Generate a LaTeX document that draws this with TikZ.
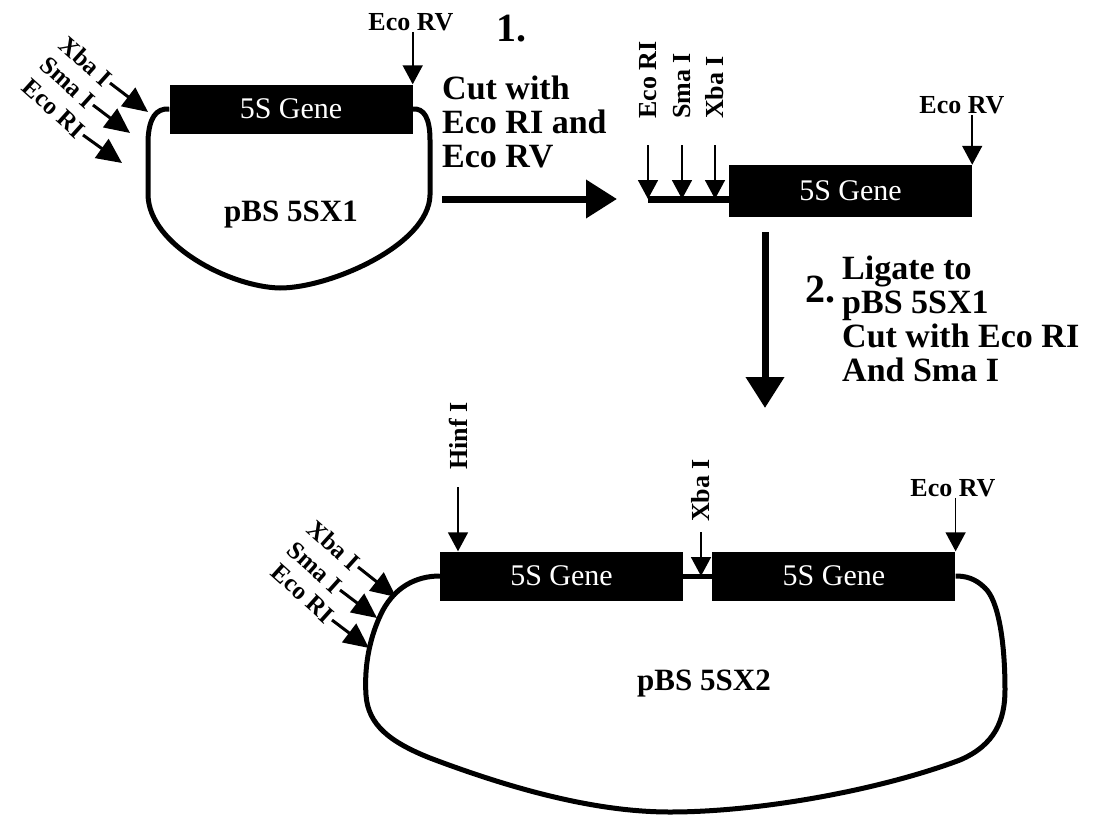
\documentclass[tikz,border=0pt]{standalone}
\usepackage{fontspec}
\setmainfont{Liberation Serif}
\usetikzlibrary{arrows.meta,positioning}
\tikzset{
  genebox/.style={fill=black, minimum width=243pt, minimum height=49pt,
    inner sep=0pt, text=white, font=\fontsize{30}{34}\selectfont},
  sitelabel/.style={font=\fontsize{26}{28}\selectfont\bfseries, inner sep=1pt},
  diaglabel/.style={font=\fontsize{25}{27}\selectfont\bfseries, inner sep=2pt,
    rotate=-42, anchor=east},
  plasmidlabel/.style={font=\fontsize{31}{34}\selectfont\bfseries},
  steptext/.style={font=\fontsize{34}{34}\selectfont\bfseries, align=left,
    anchor=west, inner sep=0pt},
  stepnum/.style={font=\fontsize{40}{44}\selectfont\bfseries},
  site/.style={-{Triangle[length=19pt,width=20pt]}, line width=1.6pt},
  diagsite/.style={-{Triangle[length=25pt,width=23pt]}, line width=3pt},
  bigflow/.style={-{Triangle[length=31pt,width=37pt]}, line width=7pt},
  loopline/.style={line width=5pt},
  linker/.style={line width=7pt}
}
\begin{document}
\begin{tikzpicture}[x=1pt, y=-1pt]
\path[use as bounding box] (0,0) rectangle (1093,817);

% pBS 5SX1
\node[genebox] (gene1) at (291,109) {5S Gene};
\node[sitelabel] (rv1) at (411,22) {Eco RV};
\draw[site] (gene1.north east |- rv1.south) -- (gene1.north east);
\draw[loopline] (gene1.west) .. controls (156,108) and (149,118) .. (148,140)
  -- (148,195) .. controls (149,245) and (230,287) .. (280,288)
  .. controls (330,288) and (429,245) .. (430,195) -- (430,140)
  .. controls (430,118) and (424,108) .. (gene1.east);
\node[plasmidlabel] (p1) at (291,215) {pBS 5SX1};
\node[diaglabel] (xba1) at (110,83) {Xba I};
\node[diaglabel] (sma1) at (93,105) {Sma I};
\node[diaglabel] (eco1) at (83,135) {Eco RI};
\coordinate (xba1tip) at (148,112);
\coordinate (sma1tip) at (130,133);
\coordinate (eco1tip) at (122,163);
\draw[diagsite] (xba1.east) -- (xba1tip);
\draw[diagsite] (sma1.east) -- (sma1tip);
\draw[diagsite] (eco1.east) -- (eco1tip);

% step 1
\node[stepnum] (one) at (511,29) {1.};
\node[steptext] (cut) at (442,122) {Cut with\\Eco RI and\\Eco RV};
\coordinate (s1a) at (442,199);
\coordinate (s1b) at (617,199);
\draw[bigflow] (s1a) -- (s1b);

% cut fragment
\node[genebox, minimum height=52pt] (gene2) at (850.5,191) {5S Gene};
\coordinate (frag) at (648,199);
\draw[linker] (frag) -- (frag -| gene2.west);
\node[sitelabel, rotate=90, anchor=west] (eco2) at (648,120) {Eco RI};
\node[sitelabel, rotate=90, anchor=west] (sma2) at (682,120) {Sma I};
\node[sitelabel, rotate=90, anchor=west] (xba2) at (715,120) {Xba I};
\draw[site, shorten <=25pt] (eco2.west) -- (eco2.west |- frag);
\draw[site, shorten <=25pt] (sma2.west) -- (sma2.west |- frag);
\draw[site, shorten <=25pt] (xba2.west) -- (xba2.west |- frag);
\node[sitelabel] (rv2) at (962,105) {Eco RV};
\draw[site] (gene2.north east |- rv2.south) -- (gene2.north east);

% step 2
\coordinate (s2a) at (765,232);
\coordinate (s2b) at (765,408);
\draw[bigflow] (s2a) -- (s2b);
\node[stepnum] (two) at (820,290) {2.};
\node[steptext] (ligate) at (842,319) {Ligate to\\pBS 5SX1\\Cut with Eco RI\\And Sma I};

% pBS 5SX2
\node[genebox] (gene3) at (561.5,576) {5S Gene};
\node[genebox, right=29pt of gene3] (gene4) {5S Gene};
\draw[line width=5pt] (gene3.east) -- (gene4.west);
\node[sitelabel, rotate=90, anchor=west] (hinf) at (458,471) {Hinf I};
\draw[site, shorten <=16pt] (hinf.west) -- (hinf.west |- gene3.north);
\node[sitelabel, rotate=90, anchor=west] (xba4) at (701,523) {Xba I};
\draw[site, shorten <=9pt] (xba4.west) -- (xba4.west |- gene3.east);
\node[sitelabel] (rv4) at (953,488) {Eco RV};
\draw[site] (gene4.north east |- rv4.south) -- (gene4.north east);
\draw[loopline] (gene3.west) .. controls (415,576) and (395,588) .. (383,610)
  .. controls (370,635) and (364,665) .. (366,695)
  .. controls (368,725) and (390,742) .. (430,758)
  .. controls (520,792) and (600,812) .. (670,812)
  .. controls (760,812) and (880,790) .. (960,760)
  .. controls (995,745) and (1005,720) .. (1005,690)
  .. controls (1005,640) and (998,600) .. (985,588)
  .. controls (975,578) and (965,576) .. (gene4.east);
\node[plasmidlabel] (p2) at (704,684) {pBS 5SX2};
\node[diaglabel] (xba3) at (358,567) {Xba I};
\node[diaglabel] (sma3) at (340,590) {Sma I};
\node[diaglabel] (eco3) at (332,620) {Eco RI};
\coordinate (xba3tip) at (396,597);
\coordinate (sma3tip) at (377,618);
\coordinate (eco3tip) at (369,648);
\draw[diagsite] (xba3.east) -- (xba3tip);
\draw[diagsite] (sma3.east) -- (sma3tip);
\draw[diagsite] (eco3.east) -- (eco3tip);
\end{tikzpicture}
\end{document}
